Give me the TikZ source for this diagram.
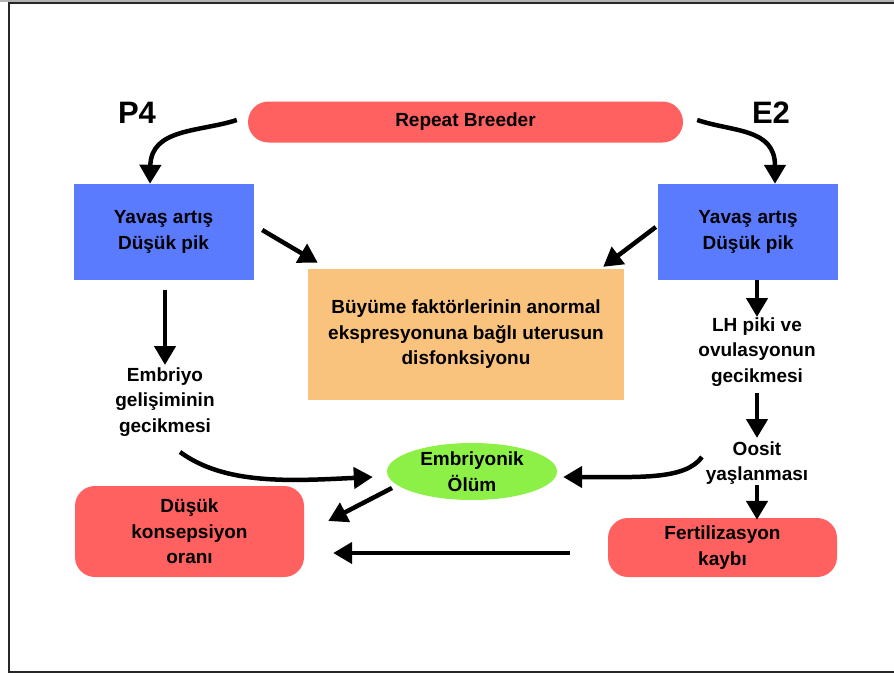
\documentclass[tikz,border=0pt]{standalone}
\usepackage{fontspec}
\setmainfont{Liberation Sans}
\usetikzlibrary{arrows.meta,shapes.geometric}
\definecolor{cred}{HTML}{FF6060}
\definecolor{cblue}{HTML}{5B7BFF}
\definecolor{corange}{HTML}{FAC37D}
\definecolor{cgreen}{HTML}{8CF046}
\tikzset{
  lbl/.style={font=\bfseries\fontsize{19}{25.5}\selectfont, align=center, text=black, inner sep=2pt},
  big/.style={font=\bfseries\fontsize{31}{33}\selectfont, text=black, inner sep=0pt},
  bluebox/.style={lbl, fill=cblue, minimum width=180pt, minimum height=96pt},
  redbox/.style={lbl, fill=cred, rounded corners=20pt},
  arr/.style={line width=4.5pt, black, -{Triangle[length=19pt,width=21pt]}},
}
\begin{document}
\begin{tikzpicture}[x=1pt,y=-1pt]
\useasboundingbox (0,0) rectangle (894,675);
\clip (0,0) rectangle (894,675);
\fill[white] (0,0) rectangle (894,675);
\fill[gray!60] (0,0) rectangle (894,2);
\draw[line width=2.5pt, black!85] (9,3) rectangle (905,672);

\node[redbox, minimum width=435pt, minimum height=41pt, rounded corners=20.5pt] (rb) at (465.5,122) {Repeat Breeder};
\node[big] (p4) at (137,113) {P4};
\node[big] (e2) at (771,113) {E2};
\node[bluebox] (lb) at (163.5,232) {Yavaş artış\\Düşük pik};
\node[bluebox] (rx) at (748,232) {Yavaş artış\\Düşük pik};
\node[lbl, fill=corange, minimum width=316pt, minimum height=131pt] (or) at (466,334.5) {Büyüme faktörlerinin anormal\\ekspresyonuna bağlı uterusun\\disfonksiyonu};
\node[lbl] (emb) at (165,402) {Embriyo\\gelişiminin\\gecikmesi};
\node[lbl] (lh) at (757,352) {LH piki ve\\ovulasyonun\\gecikmesi};
\node[lbl] (oos) at (757,463) {Oosit\\yaşlanması};
\node[redbox, minimum width=229pt, minimum height=59pt] (fert) at (722.5,547.5) {Fertilizasyon\\kaybı};
\node[lbl, ellipse, fill=cgreen, minimum width=170pt, minimum height=57pt, inner sep=0pt] (gr) at (472,471.5) {Embriyonik\\Ölüm};
\node[redbox, minimum width=229pt, minimum height=91pt] (dk) at (189.5,531.5) {Düşük\\konsepsiyon\\oranı};

\draw[arr] ([xshift=-11pt,yshift=2pt]rb.west) .. controls (200,132) and (151,128) .. ([xshift=-13.5pt]lb.north);
\draw[arr] ([xshift=14pt,yshift=2pt]rb.east) .. controls (733,132) and (775,128) .. ([xshift=27pt]rx.north);
\draw[arr] ([xshift=8.5pt,yshift=2pt]lb.east) -- ([xshift=10pt,yshift=6pt]or.north west);
\draw[arr] ([xshift=-2pt,yshift=5pt]rx.west) -- ([xshift=-21pt,yshift=2pt]or.north east);
\draw[arr] ([xshift=1.5pt,yshift=-10pt]lb.south) -- ([yshift=37pt]emb.center);
\draw[arr] ([xshift=9pt]rx.south) -- ([yshift=35pt]lh.center);
\draw[arr] ([yshift=-41pt]lh.center) -- ([yshift=25pt]oos.center);
\draw[arr] ([yshift=-22pt]oos.center) -- ([xshift=34.5pt,yshift=-2pt]fert.north);
\draw[arr] ([xshift=-55pt,yshift=6pt]oos.center) .. controls (685,480) and (640,477) .. ([xshift=6pt,yshift=-5.5pt]gr.east);
\draw[arr] ([xshift=15pt,yshift=-50pt]emb.center) .. controls (225,485) and (290,481) .. ([xshift=-14pt,yshift=-5.5pt]gr.west);
\draw[arr] ([xshift=-80pt,yshift=-16.5pt]gr.center) -- ([xshift=24pt,yshift=10.5pt]dk.east);
\draw[arr] ([xshift=-38pt,yshift=-5.5pt]fert.west) -- ([xshift=29pt,yshift=-21.5pt]dk.east);
\end{tikzpicture}
\end{document}
